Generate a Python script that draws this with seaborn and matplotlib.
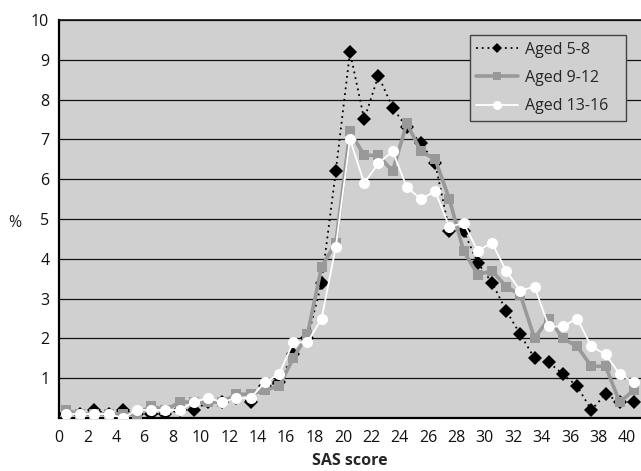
import numpy as np
import pandas as pd
import matplotlib
matplotlib.use("Agg")
import matplotlib.pyplot as plt
import seaborn as sns

scores = list(range(0, 41))
aged_5_8 = [0.1, 0.1, 0.2, 0.1, 0.2, 0.1, 0.1, 0.1, 0.2, 0.2, 0.4, 0.4, 0.5, 0.4, 0.8,
            0.9, 1.6, 2.0, 3.4, 6.2, 9.2, 7.5, 8.6, 7.8, 7.3, 6.9, 6.4, 4.7, 4.7, 3.9,
            3.4, 2.7, 2.1, 1.5, 1.4, 1.1, 0.8, 0.2, 0.6, 0.4, 0.4]
aged_9_12 = [0.2, 0.1, 0.1, 0.1, 0.1, 0.1, 0.3, 0.2, 0.4, 0.4, 0.4, 0.4, 0.6, 0.6, 0.7,
             0.8, 1.5, 2.1, 3.8, 4.4, 7.2, 6.6, 6.6, 6.2, 7.4, 6.7, 6.5, 5.5, 4.2, 3.6,
             3.7, 3.3, 3.1, 2.0, 2.5, 2.0, 1.8, 1.3, 1.3, 0.4, 0.7]
aged_13_16 = [0.1, 0.1, 0.1, 0.1, 0.0, 0.2, 0.2, 0.2, 0.2, 0.4, 0.5, 0.4, 0.5, 0.5, 0.9,
              1.1, 1.9, 1.9, 2.5, 4.3, 7.0, 5.9, 6.4, 6.7, 5.8, 5.5, 5.7, 4.8, 4.9, 4.2,
              4.4, 3.7, 3.2, 3.3, 2.3, 2.3, 2.5, 1.8, 1.6, 1.1, 0.9]
series_names = ["Aged 5-8", "Aged 9-12", "Aged 13-16"]
x_tick_labels = [str(i) if (i % 2 == 0 and i <= 40) else "" for i in range(0, 42)]
y_tick_labels = [""] + [str(i) for i in range(1, 11)]

sns.set_theme(style="white")
plt.rcParams["font.family"] = ["Open Sans", "DejaVu Sans"]

df = pd.DataFrame({
    "pos": np.array(scores) + 0.5,
    series_names[0]: aged_5_8,
    series_names[1]: aged_9_12,
    series_names[2]: aged_13_16,
})

fig = plt.figure(figsize=(6.41, 4.71), dpi=100)
ax = fig.add_axes([59 / 641, 1 - 418 / 471, 582 / 641, 398 / 471])
ax.set_facecolor("#d0d0d0")

sns.lineplot(data=df, x="pos", y=series_names[0], ax=ax, color="black", lw=1.3,
             linestyle=(0, (1, 2.2)), marker="D", markersize=7, markeredgewidth=0,
             markerfacecolor="black", label=series_names[0], zorder=3)
sns.lineplot(data=df, x="pos", y=series_names[1], ax=ax, color="#999999", lw=2.6,
             marker="s", markersize=7.5, markeredgewidth=0,
             markerfacecolor="#999999", label=series_names[1], zorder=4)
sns.lineplot(data=df, x="pos", y=series_names[2], ax=ax, color="white", lw=1.3,
             marker="o", markersize=8, markeredgewidth=0,
             markerfacecolor="white", label=series_names[2], zorder=5)

ax.set_xlim(0, 41)
ax.set_ylim(0, 10)
ax.set_xticks(range(0, 42))
ax.set_xticklabels(x_tick_labels, fontsize=11.5)
ax.set_yticks(range(0, 11))
ax.set_yticklabels(y_tick_labels, fontsize=11.5)
ax.tick_params(axis="both", direction="out", length=4, width=1, color="black",
               labelcolor="#111111", pad=3)
ax.tick_params(axis="x", pad=5)

ax.yaxis.grid(True, color="#111111", lw=0.9)
ax.xaxis.grid(False)
ax.set_axisbelow(True)

for side in ["left", "bottom"]:
    ax.spines[side].set_color("black")
    ax.spines[side].set_linewidth(1.6)
ax.spines["top"].set_color("#111111")
ax.spines["top"].set_linewidth(1.2)
ax.spines["right"].set_visible(False)

ax.set_xlabel("SAS score", fontsize=11.5, fontweight="bold", labelpad=5)
ax.set_ylabel("%", fontsize=11.5, rotation=0, va="center", ha="center")
ax.yaxis.set_label_coords(-0.076, 0.49)

leg = ax.legend(loc="upper left", bbox_to_anchor=(0.706, 0.5, 0.268, 0.462),
                mode="expand", frameon=True,
                fancybox=False, framealpha=1, facecolor="#d0d0d0", edgecolor="#444444",
                fontsize=11.5, handlelength=2.6, handletextpad=0.45, labelspacing=0.78,
                borderpad=0.4, borderaxespad=0, numpoints=1, markerscale=0.8)
leg.get_frame().set_linewidth(1.0)

fig.savefig("out.png", dpi=100)
